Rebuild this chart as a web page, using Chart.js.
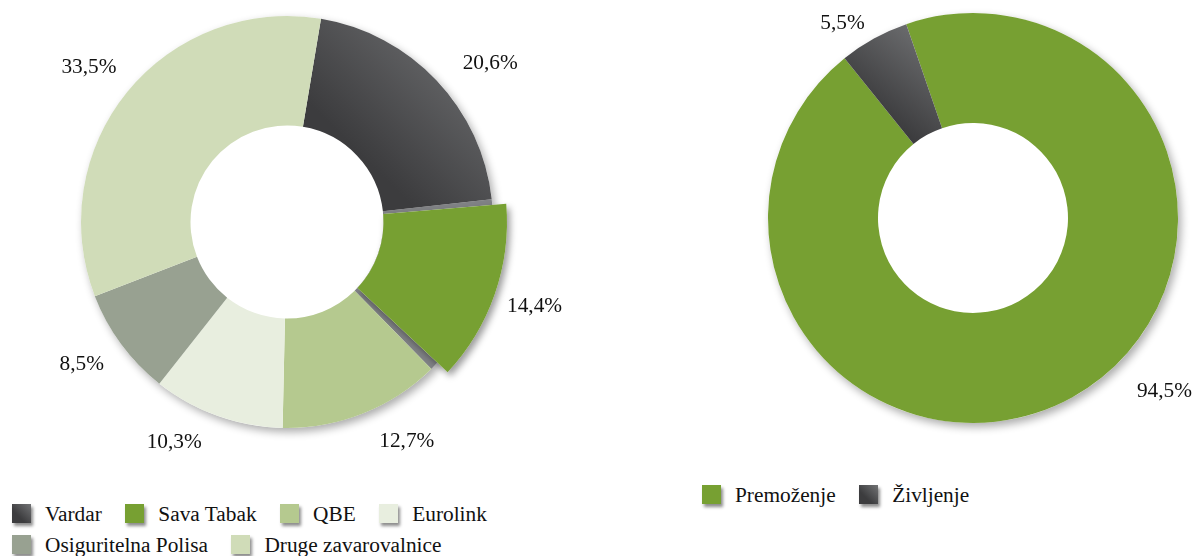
<!DOCTYPE html>
<html><head><meta charset="utf-8">
<script src="https://cdn.jsdelivr.net/npm/chart.js@4.4.1/dist/chart.umd.min.js"></script>
<style>
html,body{margin:0;padding:0;background:#fff;width:1195px;height:556px;overflow:hidden;position:relative;font-family:'Liberation Serif','Times New Roman',serif;}
.cw{position:absolute;}
.legend{position:absolute;display:flex;flex-wrap:wrap;row-gap:11px;font-family:'Liberation Serif','Times New Roman',serif;font-size:21.33px;line-height:20px;color:#111;}
.item{display:flex;align-items:flex-start;margin-right:23.5px;white-space:nowrap;height:20px;}
.sw{width:19px;height:19px;margin-right:14px;box-shadow:2px 3px 3px rgba(0,0,0,0.45);flex:none;}
</style></head><body>
<div class="cw" style="left:0;top:0;width:600px;height:480px"><canvas id="c1"></canvas></div>
<div class="cw" style="left:680px;top:0;width:515px;height:480px"><canvas id="c2"></canvas></div>
<div id="lg1" class="legend" style="left:12px;top:504px;width:560px"></div>
<div id="lg2" class="legend" style="left:702px;top:485px;width:400px"></div>
<script>
// ---- data ----
const insurers = ['Vardar', 'Sava Tabak', 'QBE', 'Eurolink', 'Osiguritelna Polisa', 'Druge zavarovalnice'];
const insurerShares = [20.6, 14.4, 12.7, 10.3, 8.5, 33.5];
const lines = ['Premoženje', 'Življenje'];
const lineShares = [94.5, 5.5];

// ---- styles ----
const DARK = '#3c3c3e', LIGHT = '#727375';
const insurerColors = ['grad', '#77a032', '#b5c98f', '#e8eedf', '#98a191', '#d0dcb8'];
const lineColors = ['#77a032', 'grad'];
const FONT = '21.33px "Liberation Serif", "Times New Roman", serif';

function fmt(v) { return v.toFixed(1).replace('.', ',') + '%'; }

function makeBg(colors, rotation, radius, cutFrac) {
  return function (c) {
    const col = colors[c.dataIndex];
    if (col !== 'grad') return col;
    const chart = c.chart, area = chart.chartArea;
    if (!area) return DARK;
    const ds = chart.data.datasets[0].data;
    const total = ds.reduce((a, b) => a + b, 0);
    let cum = 0;
    for (let k = 0; k < c.dataIndex; k++) cum += ds[k];
    const a0 = (rotation - 90 + 360 * cum / total) * Math.PI / 180;
    const a1 = a0 + 360 * ds[c.dataIndex] / total * Math.PI / 180;
    const cx = (area.left + area.right) / 2, cy = (area.top + area.bottom) / 2;
    let minX = Infinity, maxX = -Infinity, minY = Infinity, maxY = -Infinity;
    for (let s = 0; s <= 16; s++) {
      const a = a0 + (a1 - a0) * s / 16;
      for (const r of [radius, radius * cutFrac]) {
        const x = cx + r * Math.cos(a), y = cy + r * Math.sin(a);
        minX = Math.min(minX, x); maxX = Math.max(maxX, x);
        minY = Math.min(minY, y); maxY = Math.max(maxY, y);
      }
    }
    const g = chart.ctx.createLinearGradient(minX, maxY, maxX, minY);
    g.addColorStop(0, DARK);
    g.addColorStop(0.3, DARK);
    g.addColorStop(0.95, LIGHT);
    g.addColorStop(1, LIGHT);
    return g;
  };
}

function sectorPath(ctx, x, y, a0, a1, rI, rO) {
  ctx.beginPath();
  ctx.arc(x, y, rO, a0, a1);
  ctx.arc(x, y, rI, a1, a0, true);
  ctx.closePath();
}

const decor = {
  id: 'decor',
  afterDatasetsUpdate(chart, args, o) {
    const meta = chart.getDatasetMeta(0);
    chart.$base = meta.data.map(el => ({x: el.x, y: el.y, startAngle: el.startAngle, endAngle: el.endAngle,
      innerRadius: el.innerRadius, outerRadius: el.outerRadius}));
    if (o.exploded >= 0) {
      const el = meta.data[o.exploded], b = chart.$base[o.exploded];
      el.startAngle = b.startAngle + o.shrinkStart * Math.PI / 180;
      el.endAngle = b.endAngle - o.shrinkEnd * Math.PI / 180;
      el.circumference = el.endAngle - el.startAngle;
      el.outerRadius = b.outerRadius + o.extra;
    }
  },
  beforeDatasetsDraw(chart, args, o) {
    const ctx = chart.ctx, base = chart.$base;
    if (!base || !base.length) return;
    const b0 = base[0];
    ctx.save();
    ctx.shadowColor = 'rgba(0,0,0,0.33)';
    ctx.shadowBlur = 8; ctx.shadowOffsetX = 3; ctx.shadowOffsetY = 4;
    ctx.fillStyle = '#fff';
    ctx.beginPath(); ctx.arc(b0.x, b0.y, b0.outerRadius, 0, Math.PI * 2); ctx.fill();
    ctx.restore();
    if (o.exploded >= 0) {
      const b = base[o.exploded];
      const el = chart.getDatasetMeta(0).data[o.exploded];
      ctx.save();
      ctx.fillStyle = o.ghost;
      sectorPath(ctx, b.x, b.y, b.startAngle, b.endAngle, b.innerRadius, b.outerRadius);
      ctx.fill();
      ctx.shadowColor = 'rgba(0,0,0,0.4)';
      ctx.shadowBlur = 7; ctx.shadowOffsetX = 3; ctx.shadowOffsetY = 4;
      ctx.fillStyle = '#fff';
      sectorPath(ctx, el.x, el.y, el.startAngle, el.endAngle, el.innerRadius, el.outerRadius);
      ctx.fill();
      ctx.restore();
    }
  },
  afterDatasetsDraw(chart, args, o) {
    const ctx = chart.ctx, base = chart.$base;
    const vals = chart.data.datasets[0].data;
    ctx.save();
    ctx.font = FONT;
    ctx.fillStyle = '#111';
    ctx.textAlign = 'center';
    ctx.textBaseline = 'middle';
    base.forEach((b, i) => {
      const mid = (b.startAngle + b.endAngle) / 2 + o.shift[i] * Math.PI / 180;
      const r = b.outerRadius + o.dist[i];
      ctx.fillText(fmt(vals[i]), b.x + r * Math.cos(mid), b.y + r * Math.sin(mid));
    });
    ctx.restore();
  }
};

function makeChart(id, labels, values, colors, rotation, radius, cutFrac, padding, decorOpts) {
  return new Chart(document.getElementById(id), {
    type: 'doughnut',
    data: {labels, datasets: [{data: values, backgroundColor: makeBg(colors, rotation, radius, cutFrac), borderWidth: 0}]},
    options: {
      responsive: true, maintainAspectRatio: false, animation: false, events: [],
      rotation, radius, cutout: (cutFrac * 100).toFixed(2) + '%',
      layout: {padding},
      plugins: {legend: {display: false}, tooltip: {enabled: false}, decor: decorOpts}
    },
    plugins: [decor]
  });
}

makeChart('c1', insurers, insurerShares, insurerColors, 9.5, 206, 96.5 / 206,
  {left: 0, right: 26, top: 0, bottom: 36},
  {exploded: 1, shrinkStart: 1.6, shrinkEnd: 2.4, extra: 14, ghost: '#808285',
   dist: [52, 55.5, 44, 42, 44, 45], shift: [5.4, -0.8, -7, 7.3, 1.6, -1.3]});
makeChart('c2', lines, lineShares, lineColors, -19, 205, 95 / 205,
  {left: 71, right: 0, top: 0, bottom: 44},
  {exploded: -1, dist: [53, 29], shift: [-19, -5]});

function buildLegend(elId, labels, colors) {
  const box = document.getElementById(elId);
  labels.forEach((t, i) => {
    const it = document.createElement('div'); it.className = 'item';
    const sw = document.createElement('span'); sw.className = 'sw';
    sw.style.background = colors[i] === 'grad' ? `linear-gradient(45deg, ${DARK} 35%, ${LIGHT})` : colors[i];
    const tx = document.createElement('span'); tx.textContent = t;
    it.appendChild(sw); it.appendChild(tx); box.appendChild(it);
  });
}
buildLegend('lg1', insurers, insurerColors);
buildLegend('lg2', lines, lineColors);
</script>
</body></html>
